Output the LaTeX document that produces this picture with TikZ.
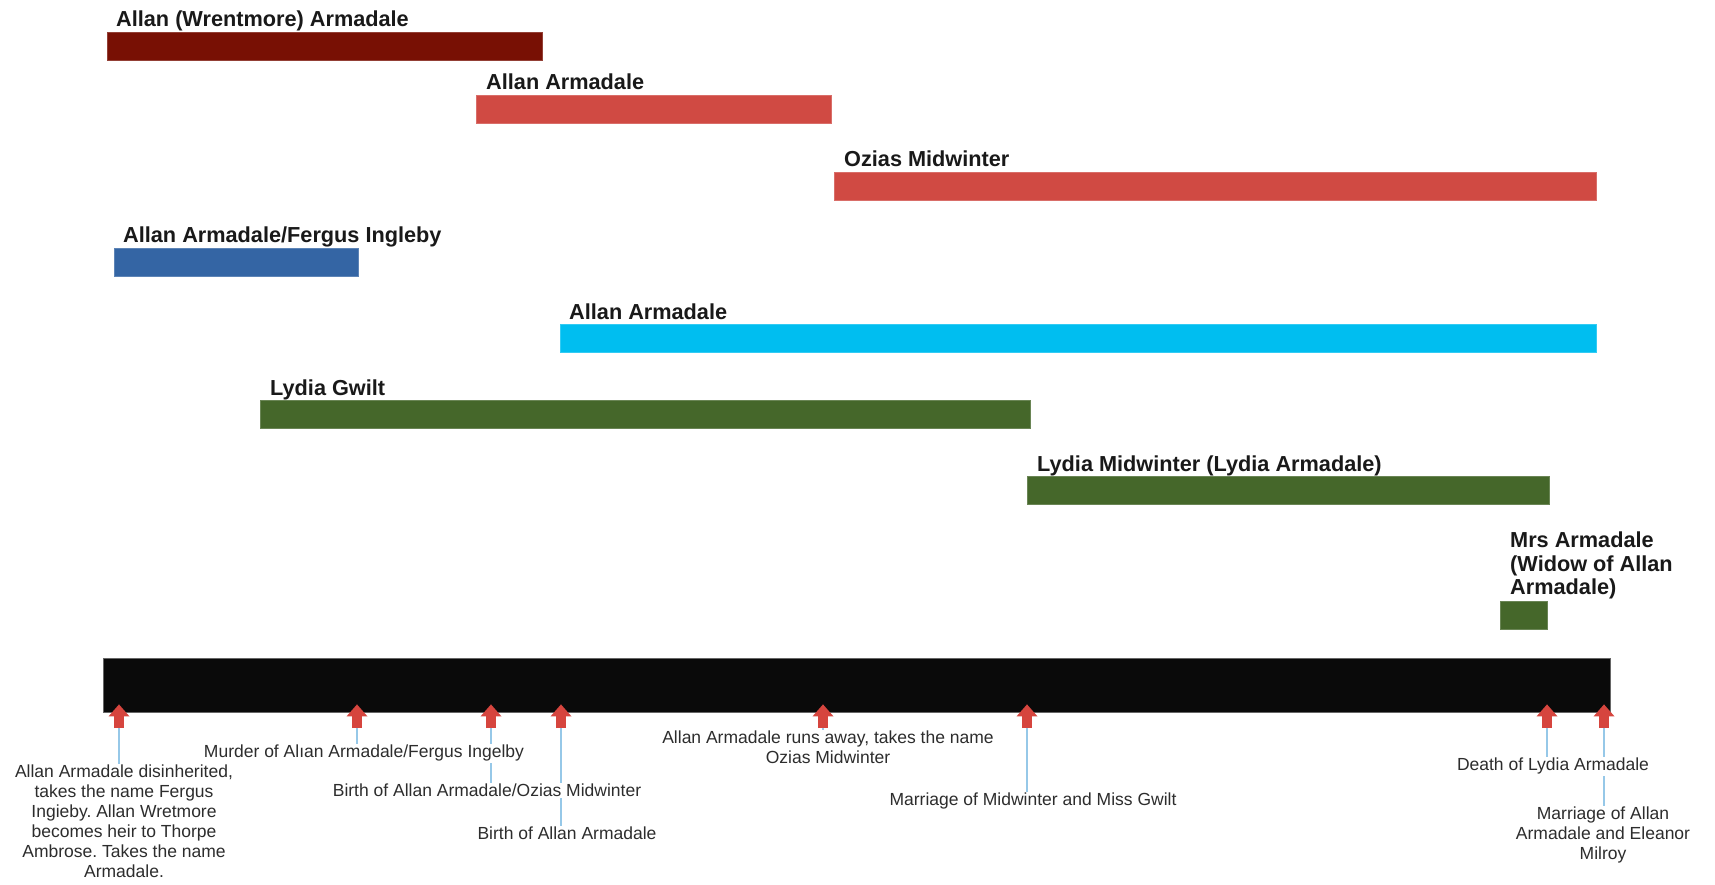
\documentclass[tikz,border=0pt]{standalone}
\usepackage{fontspec}
\setmainfont{Liberation Sans}
\frenchspacing
\usepackage{xcolor}
\usepackage{tikz}
\usetikzlibrary{positioning, calc, backgrounds, arrows.meta}
\definecolor{WrentColor}{RGB}{120,16,4}
\definecolor{AllanColor}{RGB}{208,74,67}
\definecolor{FergusColor}{RGB}{52,101,164}
\definecolor{CyanColor}{RGB}{0,190,240}
\definecolor{LydiaColor}{RGB}{69,103,42}
\definecolor{TimeColor}{RGB}{10,10,10}
\definecolor{MarkColor}{RGB}{214,69,62}
\definecolor{LeaderColor}{RGB}{150,200,232}
\definecolor{EventText}{RGB}{45,45,45}
\definecolor{NameText}{RGB}{25,25,25}
\tikzset{
    lifebar/.style={
        shape=rectangle,
        fill=#1,
        draw=#1!80!white,
        line width=0.8pt,
        anchor=north west,
        inner sep=0pt,
        minimum height=28pt
    },
    barname/.style={
        anchor=base west,
        inner sep=0pt,
        align=left,
        text=NameText,
        font=\fontsize{21.7}{23.5}\selectfont\bfseries
    },
    timebar/.style={
        shape=rectangle,
        fill=TimeColor,
        draw=black!60,
        anchor=north west,
        inner sep=0pt,
        minimum width=1507pt,
        minimum height=54pt
    },
    eventmark/.style={
        draw=MarkColor,
        line width=10pt,
        shorten >=-8pt,
        -{Triangle[width=21pt, length=12pt, line width=0pt]}
    },
    eventtext/.style={
        fill=white,
        inner sep=1pt,
        anchor=north,
        align=center,
        text=EventText,
        font=\fontsize{17.5}{20}\selectfont
    },
    leader/.style={draw=LeaderColor, line width=1.5pt}
}

\begin{document}
\begin{tikzpicture}[x=1pt, y=-1pt]

% Canvas
\useasboundingbox (0,0) rectangle (1715,885);

% Life bars
\node[lifebar=WrentColor, minimum width=435pt] (b_wrent) at (107,32) {};
\node[barname] (n_wrent) at ([xshift=9pt, yshift=5pt]b_wrent.north west) {Allan (Wrentmore) Armadale};

\node[lifebar=AllanColor, minimum width=355pt] (b_allan) at (476,95) {};
\node[barname] (n_allan) at ([xshift=10pt, yshift=5pt]b_allan.north west) {Allan Armadale};

\node[lifebar=AllanColor, minimum width=762pt] (b_ozias) at (834,172) {};
\node[barname] (n_ozias) at ([xshift=10pt, yshift=5pt]b_ozias.north west) {Ozias Midwinter};

\node[lifebar=FergusColor, minimum width=244pt] (b_fergus) at (114,248) {};
\node[barname] (n_fergus) at ([xshift=9pt, yshift=5pt]b_fergus.north west) {Allan Armadale/Fergus Ingleby};

\node[lifebar=CyanColor, minimum width=1036pt] (b_cyan) at (560,324) {};
\node[barname] (n_cyan) at ([xshift=9pt, yshift=5pt]b_cyan.north west) {Allan Armadale};

\node[lifebar=LydiaColor, minimum width=770pt] (b_gwilt) at (260,400) {};
\node[barname] (n_gwilt) at ([xshift=10pt, yshift=5pt]b_gwilt.north west) {Lydia Gwilt};

\node[lifebar=LydiaColor, minimum width=522pt] (b_lydia) at (1027,476) {};
\node[barname] (n_lydia) at ([xshift=10pt, yshift=5pt]b_lydia.north west) {Lydia Midwinter (Lydia Armadale)};

\node[lifebar=LydiaColor, minimum width=47pt] (b_widow) at (1500,601) {};
\node[barname, anchor=north west] (n_widow) at (1510,532) {Mrs Armadale\\(Widow of Allan\\Armadale)};

% Timeline
\node[timebar] (line) at (103,658) {};

% Event markers
\coordinate (m_disinh) at (119,728);
\coordinate (m_murder) at (357,728);
\coordinate (m_birthao) at (491,728);
\coordinate (m_birtha) at (561,728);
\coordinate (m_runs) at (823,728);
\coordinate (m_wed) at (1027,728);
\coordinate (m_death) at (1547,728);
\coordinate (m_wedallan) at (1604,728);

\draw[eventmark] (m_disinh) -- (m_disinh |- line.south);
\draw[eventmark] (m_murder) -- (m_murder |- line.south);
\draw[eventmark] (m_birthao) -- (m_birthao |- line.south);
\draw[eventmark] (m_birtha) -- (m_birtha |- line.south);
\draw[eventmark] (m_runs) -- (m_runs |- line.south);
\draw[eventmark] (m_wed) -- (m_wed |- line.south);
\draw[eventmark] (m_death) -- (m_death |- line.south);
\draw[eventmark] (m_wedallan) -- (m_wedallan |- line.south);

% Event texts
\node[eventtext] (e_disinh) at (124,764) {Allan Armadale disinherited,\\takes the name Fergus\\Ingieby. Allan Wretmore\\becomes heir to Thorpe\\Ambrose. Takes the name\\Armadale.};
\node[eventtext] (e_murder) at (364,744) {Murder of Alıan Armadale/Fergus Ingelby};
\node[eventtext] (e_birthao) at (487,783) {Birth of Allan Armadale/Ozias Midwinter};
\node[eventtext] (e_birtha) at (567,826) {Birth of Allan Armadale};
\node[eventtext] (e_runs) at (828,730) {Allan Armadale runs away, takes the name\\Ozias Midwinter};
\node[eventtext] (e_wed) at (1033,792) {Marriage of Midwinter and Miss Gwilt};
\node[eventtext] (e_death) at (1553,757) {Death of Lydia Armadale};
\node[eventtext] (e_wedallan) at (1603,806) {Marriage of Allan\\Armadale and Eleanor\\Milroy};

% Leaders
\begin{scope}[on background layer]
\fill[white] (0,0) rectangle (1715,885);
\draw[leader] (m_disinh) -- (m_disinh |- e_disinh.north);
\draw[leader] (m_murder) -- (m_murder |- e_murder.north);
\draw[leader] (m_birthao) -- (m_birthao |- e_birthao.north);
\draw[leader] (m_birtha) -- (m_birtha |- e_birtha.north);
\draw[leader] (m_runs) -- (m_runs |- e_runs.north);
\draw[leader] (m_wed) -- (m_wed |- e_wed.north);
\draw[leader] (m_death) -- (m_death |- e_death.north);
\draw[leader] (m_wedallan) -- (m_wedallan |- e_wedallan.north);
\end{scope}

\end{tikzpicture}
\end{document}
